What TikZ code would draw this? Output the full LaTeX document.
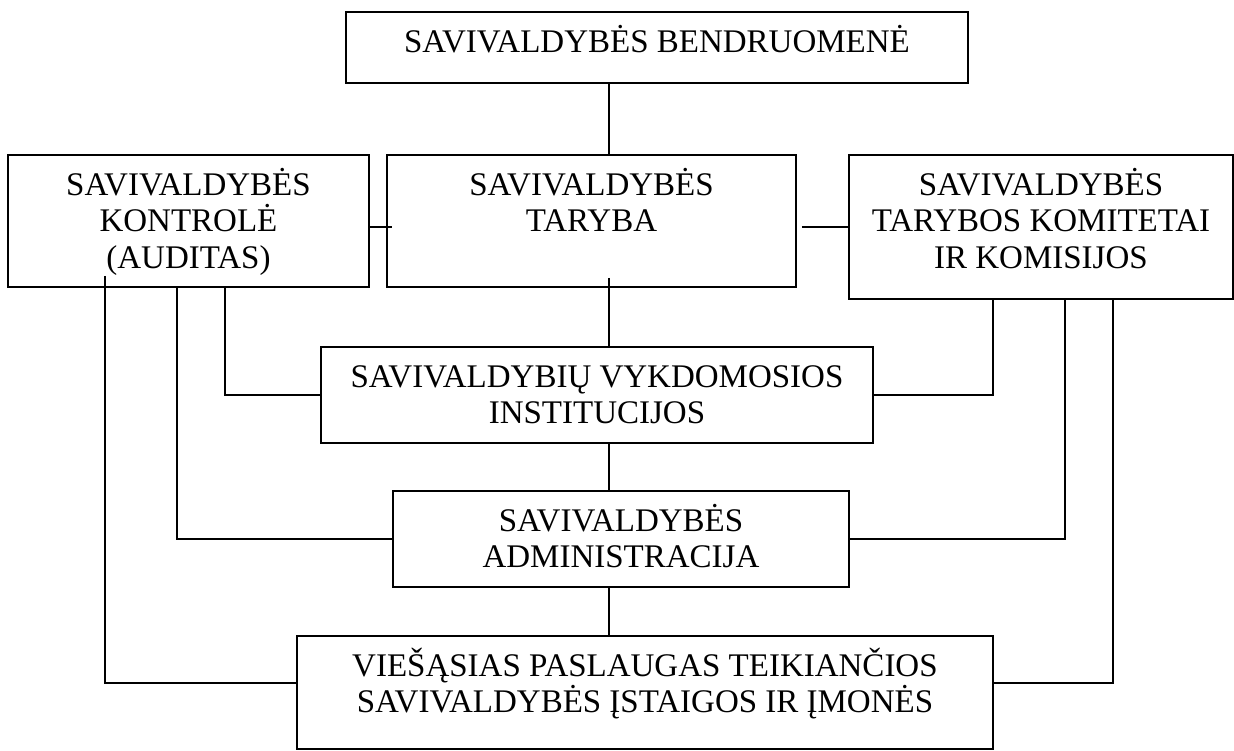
\documentclass[tikz,border=0pt]{standalone}
\usepackage{fontspec}
\setmainfont{Liberation Serif}
\begin{document}
\begin{tikzpicture}[x=1pt,y=-1pt,
  box/.style={draw, line width=1.8pt, inner sep=0pt, rectangle},
  txt/.style={inner sep=0pt, align=center, font=\fontsize{33}{36.5}\selectfont, anchor=north},
  conn/.style={line width=1.8pt}]
\useasboundingbox (0,0) rectangle (1234,751);
% boxes
\node[box, minimum width=622pt, minimum height=71pt] (tb) at (657,47.5) {};
\node[box, minimum width=361pt, minimum height=132pt] (lb) at (188.5,221) {};
\node[box, minimum width=409pt, minimum height=132pt] (mb) at (591.5,221) {};
\node[box, minimum width=384pt, minimum height=144pt] (rb) at (1041,227) {};
\node[box, minimum width=552pt, minimum height=96pt] (vk) at (597,395) {};
\node[box, minimum width=456pt, minimum height=96pt] (ad) at (621,539) {};
\node[box, minimum width=696pt, minimum height=113pt] (bt) at (645,692.5) {};
% texts
\node[txt] (tbt) at ([yshift=-9.65pt]tb.north) {\rule{0pt}{31.35pt}SAVIVALDYBĖS BENDRUOMENĖ};
\node[txt] (lbt) at ([yshift=-9.65pt]lb.north) {\rule{0pt}{31.35pt}SAVIVALDYBĖS\\KONTROLĖ\\(AUDITAS)};
\node[txt] (mbt) at ([yshift=-9.65pt]mb.north) {\rule{0pt}{31.35pt}SAVIVALDYBĖS\\TARYBA};
\node[txt] (rbt) at ([yshift=-9.65pt]rb.north) {\rule{0pt}{31.35pt}SAVIVALDYBĖS\\TARYBOS KOMITETAI\\IR KOMISIJOS};
\node[txt] (vkt) at ([yshift=-9.65pt]vk.north) {\rule{0pt}{31.35pt}SAVIVALDYBIŲ VYKDOMOSIOS\\INSTITUCIJOS};
\node[txt] (adt) at ([yshift=-9.65pt]ad.north) {\rule{0pt}{31.35pt}SAVIVALDYBĖS\\ADMINISTRACIJA};
\node[txt] (btt) at ([yshift=-9.65pt]bt.north) {\rule{0pt}{31.35pt}VIEŠĄSIAS PASLAUGAS TEIKIANČIOS\\SAVIVALDYBĖS ĮSTAIGOS IR ĮMONĖS};
% helper coordinates
\coordinate (xc) at (609,0);
\coordinate (ly) at (0,227);
\coordinate (by) at (0,683);
\coordinate (xa) at (225,0);
\coordinate (xb) at (177,0);
\coordinate (xl) at (105,0);
\coordinate (xd) at (993,0);
\coordinate (xe) at (1065,0);
\coordinate (xf) at (1113,0);
% connectors
\draw[conn] (tb.south -| xc) -- (mb.north -| xc);
\draw[conn] ([yshift=10pt]mb.south -| xc) -- (vk.north -| xc);
\draw[conn] (vk.south -| xc) -- (ad.north -| xc);
\draw[conn] (ad.south -| xc) -- (bt.north -| xc);
\draw[conn] (lb.east |- ly) -- ([xshift=6pt]mb.west |- ly);
\draw[conn] ([xshift=5pt]mb.east |- ly) -- (rb.west |- ly);
\draw[conn] (lb.south -| xa) |- (vk.west);
\draw[conn] (lb.south -| xb) |- (ad.west);
\draw[conn] ([yshift=12pt]lb.south -| xl) |- (bt.west |- by);
\draw[conn] (rb.south -| xd) |- (vk.east);
\draw[conn] (rb.south -| xe) |- (ad.east);
\draw[conn] (rb.south -| xf) |- (bt.east |- by);
\end{tikzpicture}
\end{document}
